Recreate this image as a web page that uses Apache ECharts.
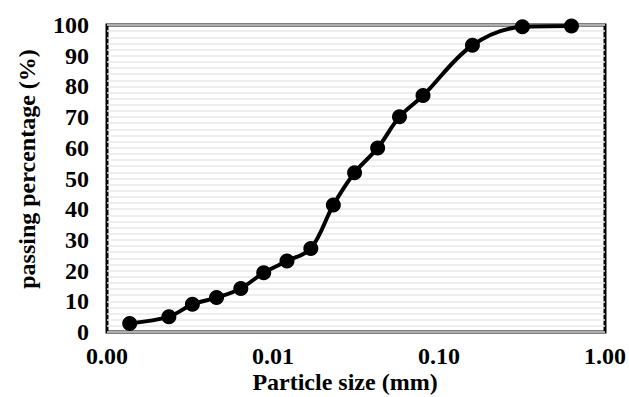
<!DOCTYPE html>
<html>
<head>
<meta charset="utf-8">
<script src="https://cdn.jsdelivr.net/npm/echarts@6/dist/echarts.min.js"></script>
<style>
html,body{margin:0;padding:0;background:#fff;}
#chart{width:629px;height:397px;}
</style>
</head>
<body>
<div id="chart"></div>
<script>
// Particle size (mm) and passing percentage (%)
var particleSize = [0.00137, 0.00236, 0.00327, 0.00457, 0.0064, 0.00879, 0.01214, 0.0169, 0.0231, 0.0310, 0.0427, 0.0578, 0.0801, 0.159, 0.318, 0.628];
var passing = [2.8, 5.0, 9.0, 11.2, 14.2, 19.3, 23.1, 27.2, 41.4, 51.9, 59.9, 70.1, 77.0, 93.4, 99.4, 99.7];
var xTitle = 'Particle size (mm)';
var yTitle = 'passing percentage (%)';

var pts = particleSize.map(function (x, i) { return [x, passing[i]]; });
var font = 'Liberation Serif';

var chart = echarts.init(document.getElementById('chart'), null, {renderer: 'svg'});
chart.setOption({
  backgroundColor: '#ffffff',
  animation: false,
  grid: {left: 107, right: 22, top: 25, bottom: 65, show: true, borderColor: '#000', borderWidth: 3, backgroundColor: 'transparent'},
  xAxis: {
    type: 'log', logBase: 10, min: 0.001, max: 1,
    axisLine: {show: false}, axisTick: {show: false},
    splitLine: {show: false},
    axisLabel: {
      margin: 15, color: '#000', fontFamily: font, fontWeight: 'bold', fontSize: 24, lineHeight: 18,
      formatter: function (v) { return Number(v).toFixed(2); }
    }
  },
  yAxis: {
    type: 'value', min: 0, max: 100, interval: 10,
    axisLine: {show: false}, axisTick: {show: false},
    splitLine: {show: true, lineStyle: {color: '#e8e8e8', width: 1.5}},
    minorTick: {show: false, splitNumber: 5},
    minorSplitLine: {show: true, lineStyle: {color: '#e8e8e8', width: 1.5}},
    axisLabel: {margin: 18, color: '#000', fontFamily: font, fontWeight: 'bold', fontSize: 24, lineHeight: 18}
  },
  graphic: [
    {type: 'text', x: 345, y: 382, style: {text: xTitle, fill: '#000', font: 'bold 24px "Liberation Serif"', lineHeight: 18, align: 'center', verticalAlign: 'middle'}},
    {type: 'text', x: 27, y: 169, rotation: Math.PI / 2, style: {text: yTitle, fill: '#000', font: 'bold 24px "Liberation Serif"', lineHeight: 18, align: 'center', verticalAlign: 'middle'}}
  ],
  series: [{
    type: 'line', data: pts, smooth: 0.35,
    symbol: 'circle', symbolSize: 15,
    lineStyle: {color: '#000', width: 4},
    itemStyle: {color: '#000'},
    z: 5
  }]
});
</script>
</body>
</html>
